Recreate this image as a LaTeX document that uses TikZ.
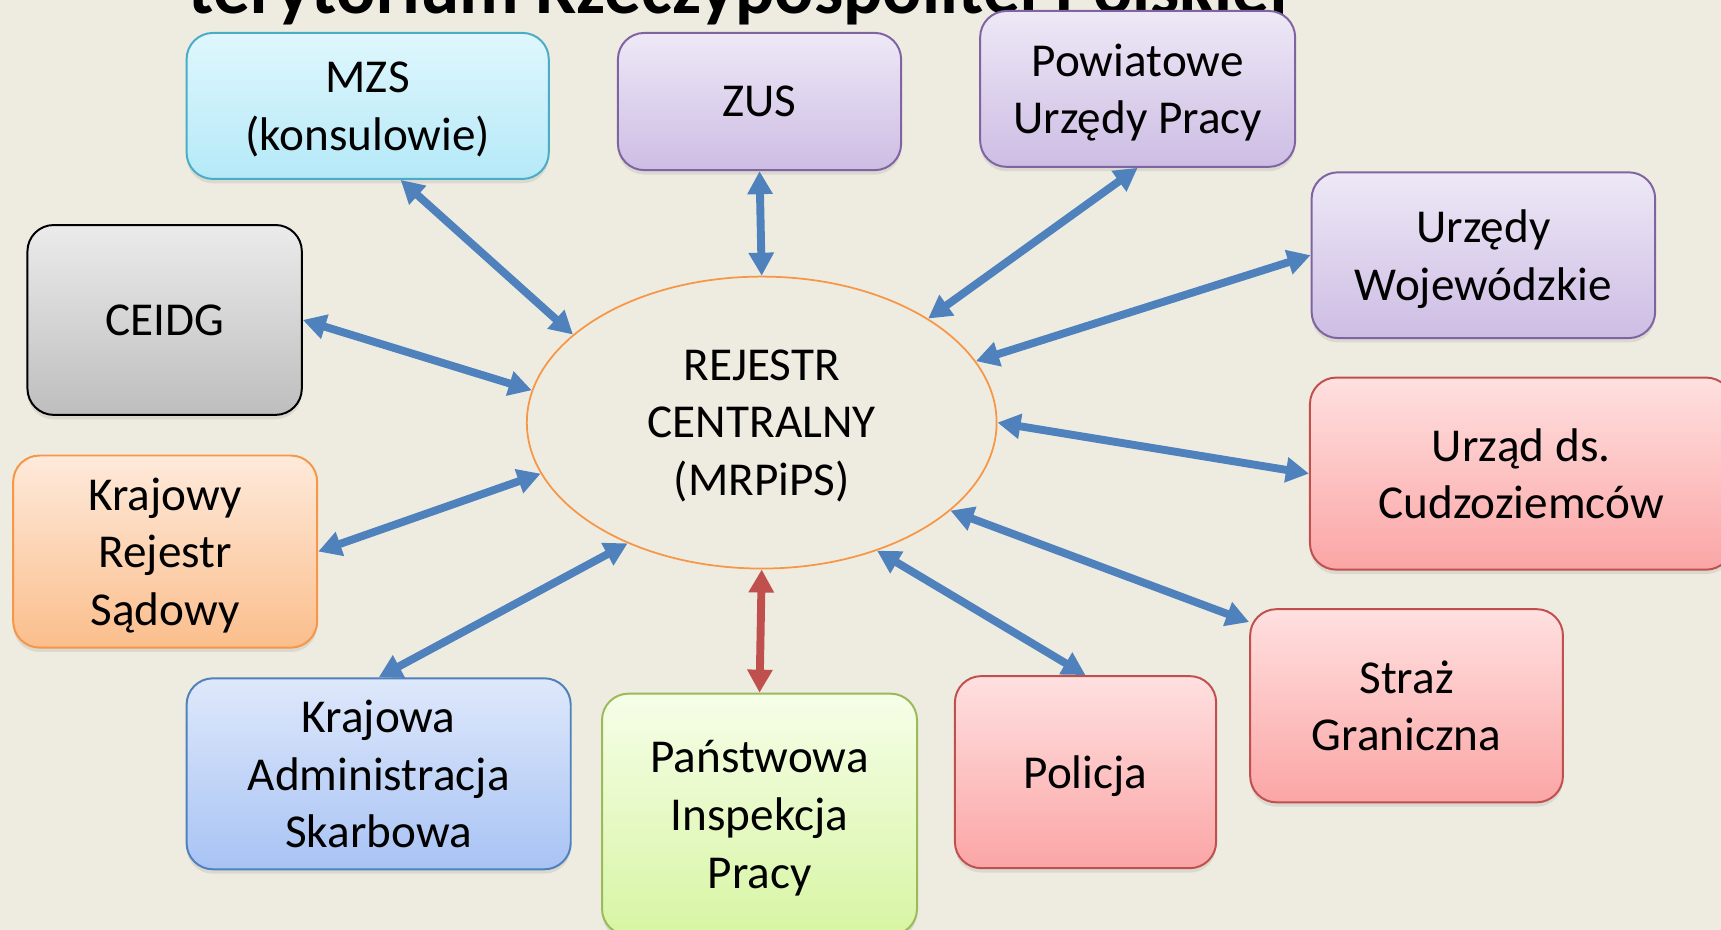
\documentclass[tikz,border=0pt]{standalone}
\usepackage{fontspec}
\setmainfont{Carlito}
\usetikzlibrary{shapes.geometric,arrows.meta,shadows}
\definecolor{bg}{HTML}{EEECE1}
\definecolor{acc1}{HTML}{4F81BD}
\definecolor{acc2}{HTML}{C0504D}
\definecolor{acc3}{HTML}{9BBB59}
\definecolor{acc4}{HTML}{8064A2}
\definecolor{acc5}{HTML}{4BACC6}
\definecolor{acc6}{HTML}{F79646}
\begin{document}
\begin{tikzpicture}[x=.5pt,y=-.5pt,
  label text/.style={align=center, font=\fontsize{21.5}{26.25}\selectfont, text depth=0pt},
  box/.style={draw, rounded corners=12pt, line width=.9pt, inner sep=0pt, label text,
    drop shadow={shadow xshift=0pt, shadow yshift=-2pt, opacity=.18}},
  cyanbox/.style={box, draw=acc5, top color={rgb,255:red,223;green,247;blue,253}, bottom color={rgb,255:red,181;green,233;blue,248}},
  violetbox/.style={box, draw=acc4, top color={rgb,255:red,238;green,232;blue,246}, bottom color={rgb,255:red,205;green,189;blue,228}},
  greybox/.style={box, draw=black, top color={rgb,255:red,235;green,235;blue,235}, bottom color={rgb,255:red,190;green,190;blue,190}},
  redbox/.style={box, draw=acc2, top color={rgb,255:red,255;green,224;blue,224}, bottom color={rgb,255:red,251;green,165;blue,165}},
  orangebox/.style={box, draw=acc6, top color={rgb,255:red,254;green,234;blue,219}, bottom color={rgb,255:red,251;green,190;blue,140}},
  bluebox/.style={box, draw=acc1, top color={rgb,255:red,222;green,232;blue,251}, bottom color={rgb,255:red,168;green,195;blue,244}},
  greenbox/.style={box, draw=acc3, top color={rgb,255:red,246;green,254;blue,232}, bottom color={rgb,255:red,215;green,245;blue,163}},
  link/.style={<->, >={Triangle[width=11pt,length=10.5pt]}, line width=3.6pt, draw=acc1}]
% background
\fill [bg] (0,0) rectangle (1568,847.3);
\useasboundingbox (0,0) rectangle (1568,847.3);
% title, cut by the top edge
\node [anchor=base, font=\fontsize{33.4}{40}\selectfont\bfseries] (title) at (673,12) {terytorium Rzeczypospolitej Polskiej};
% central register
\node [ellipse, draw=acc6, fill=bg, line width=.8pt, minimum width=214pt, minimum height=133pt,
  inner sep=0pt, label text] (reg) at (694,385) {REJESTR\\CENTRALNY\\(MRPiPS)};
% top row
\node [cyanbox, minimum width=165pt, minimum height=66.5pt] (mzs) at (335,96.5) {MZS\\(konsulowie)};
\node [violetbox, minimum width=129pt, minimum height=62.5pt] (zus) at (692,92.5) {ZUS};
\node [violetbox, minimum width=143.5pt, minimum height=71pt] (pup) at (1036.5,81) {Powiatowe\\Urzędy Pracy};
\node [violetbox, minimum width=156.5pt, minimum height=75.5pt] (uw) at (1351.5,232.5) {Urzędy\\Wojewódzkie};
% left side
\node [greybox, minimum width=125pt, minimum height=86.5pt] (ceidg) at (150,291.5) {CEIDG};
\node [orangebox, minimum width=138.5pt, minimum height=87.5pt] (krs) at (150.5,502.5) {Krajowy\\Rejestr\\Sądowy};
% right side
\node [redbox, minimum width=192.5pt, minimum height=87.5pt] (udc) at (1386,431.5) {Urząd ds.\\Cudzoziemców};
\node [redbox, minimum width=142.5pt, minimum height=88pt] (sg) at (1281.5,643) {Straż\\Graniczna};
% bottom row
\node [bluebox, minimum width=175pt, minimum height=87pt] (kas) at (345,705) {Krajowa\\Administracja\\Skarbowa};
\node [greenbox, minimum width=143.5pt, minimum height=110pt] (pip) at (692,742) {Państwowa\\Inspekcja\\Pracy};
\node [redbox, minimum width=119pt, minimum height=87.5pt] (pol) at (989,703.5) {Policja};
% links
\foreach \a/\b in {mzs.-66/reg.155, zus.south/reg.north, pup.south/reg.32, uw.west/reg.16,
  reg.east/udc.west, reg.-25/sg.152, reg.-48/pol.north, reg.-138/kas.north,
  reg.-167/krs.east, ceidg.east/reg.172}
  \draw [link] (\a) -- (\b);
\draw [link, draw=acc2] (reg.south) -- (pip.north);
\end{tikzpicture}
\end{document}
